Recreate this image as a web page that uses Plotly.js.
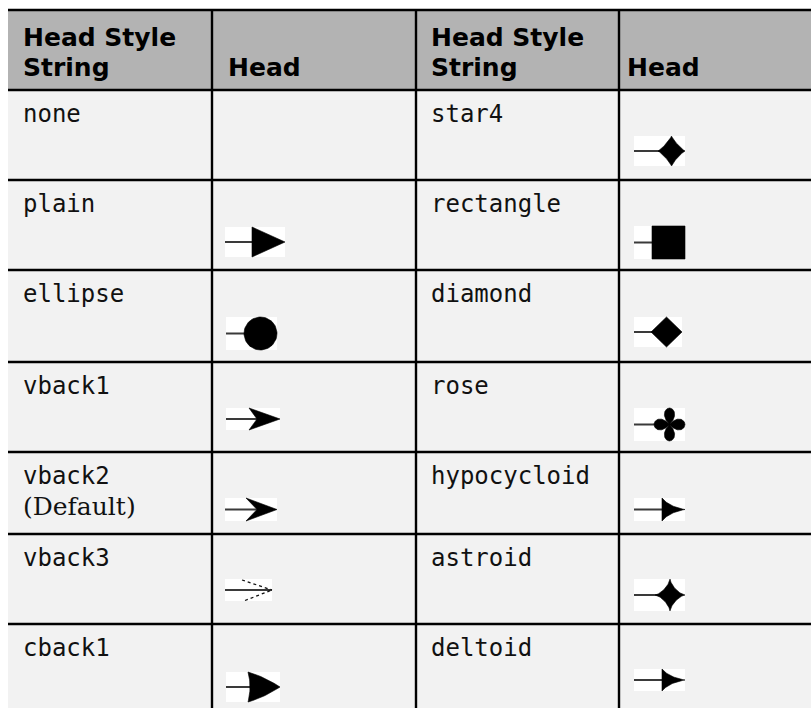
<!DOCTYPE html>
<html><head><meta charset="utf-8">
<script src="https://cdn.plot.ly/plotly-3.0.1.min.js"></script>
<style>html,body{margin:0;padding:0;background:#fff;overflow:hidden}</style>
</head><body><div id="chart" style="width:811px;height:708px"></div>
<script>
// ---- data ----
const headerLabels = ['Head Style<br>String', 'Head', 'Head Style<br>String', 'Head'];
const leftStyles = ['none', 'plain', 'ellipse', 'vback1', 'vback2', 'vback3', 'cback1'];
const rightStyles = ['star4', 'rectangle', 'diamond', 'rose', 'hypocycloid', 'astroid', 'deltoid'];
const defaultStyle = 'vback2';
const defaultNote = '(Default)';

// ---- layout geometry (pixels) ----
const W = 811, H = 708;
const COL_X = [8, 212, 416, 619, 811];
const ROW_Y = [10, 90, 180, 270, 362, 452, 534, 624, 708];
const HEADER_TEXT_X = [23, 228, 431, 627];
const HEADER_BASE = [46, 76];
const BODY_BASE_OFF = 32;
const HEADER_FONT = {family: 'DejaVu Sans', size: 25, color: '#000', weight: 'bold'};
const BODY_FONT = {family: 'DejaVu Sans Mono', size: 24, color: '#111'};
const NOTE_FONT = {family: 'DejaVu Serif', size: 25, color: '#111'};

// glyph boxes relative to cell top-left; hx = head start inside the box
const GLYPH = {
  plain:       {dx: 13, dy: 47, w: 60, h: 30, kind: 'tri',     hx: 27},
  ellipse:     {dx: 14, dy: 47, w: 51, h: 33, kind: 'circle',  hx: 18},
  vback1:      {dx: 14, dy: 46, w: 54, h: 22, kind: 'vback',   hx: 23, notch: 8},
  vback2:      {dx: 13, dy: 46, w: 52, h: 23, kind: 'vback',   hx: 21, notch: 11},
  vback3:      {dx: 13, dy: 45, w: 47, h: 22, kind: 'chevron', hx: 17},
  cback1:      {dx: 14, dy: 48, w: 54, h: 30, kind: 'cback',   hx: 22},
  star4:       {dx: 15, dy: 46, w: 51, h: 30, kind: 'super',   hx: 24, p: 0.85},
  rectangle:   {dx: 15, dy: 46, w: 51, h: 33, kind: 'rect',    hx: 18},
  diamond:     {dx: 15, dy: 47, w: 48, h: 30, kind: 'diamond', hx: 17},
  rose:        {dx: 15, dy: 46, w: 51, h: 33, kind: 'rose',    hx: 20},
  hypocycloid: {dx: 15, dy: 46, w: 51, h: 23, kind: 'cusp',    hx: 28},
  astroid:     {dx: 15, dy: 45, w: 51, h: 32, kind: 'super',   hx: 21, p: 0.7},
  deltoid:     {dx: 15, dy: 45, w: 51, h: 22, kind: 'cusp',    hx: 28}
};

const shapes = [], annotations = [], traces = [];

function rect(x0, y0, x1, y1, fill, layer) {
  shapes.push({type: 'rect', xref: 'x', yref: 'y', x0, y0, x1, y1,
    fillcolor: fill, line: {width: 0}, layer: layer || 'below'});
}
function hline(y, x0, x1) {
  shapes.push({type: 'line', xref: 'x', yref: 'y', x0, x1, y0: y, y1: y,
    line: {color: '#000', width: 2.4}, layer: 'above'});
}
function vline(x, y0, y1) {
  shapes.push({type: 'line', xref: 'x', yref: 'y', x0: x, x1: x, y0, y1,
    line: {color: '#000', width: 2.4}, layer: 'above'});
}
function addText(text, x, baseline, font) {
  annotations.push({xref: 'x', yref: 'y', x, y: baseline - 0.346 * font.size,
    xanchor: 'left', yanchor: 'middle', text, showarrow: false, font,
    borderpad: 0, borderwidth: 0});
}
function fillTrace(xs, ys) {
  traces.push({type: 'scatter', mode: 'lines', x: xs, y: ys, fill: 'toself',
    fillcolor: '#000', line: {width: 0.6, color: '#000'}, hoverinfo: 'skip', showlegend: false});
}
function lineTrace(xs, ys, width, color, dash) {
  traces.push({type: 'scatter', mode: 'lines', x: xs, y: ys,
    line: {width, color, dash: dash || 'solid'}, hoverinfo: 'skip', showlegend: false});
}
function quad(p0, c, p1, n, xs, ys) {
  for (let i = 0; i <= n; i++) {
    const t = i / n, a = (1 - t) * (1 - t), b = 2 * (1 - t) * t, d = t * t;
    xs.push(a * p0[0] + b * c[0] + d * p1[0]);
    ys.push(a * p0[1] + b * c[1] + d * p1[1]);
  }
}

function drawGlyph(style, cellX, cellY) {
  const g = GLYPH[style];
  if (!g) return;
  const bx0 = cellX + g.dx, by0 = cellY + g.dy, bx1 = bx0 + g.w, by1 = by0 + g.h;
  rect(bx0, by0, bx1, by1, '#ffffff', 'below');
  const X0 = bx0 + g.hx, X1 = bx1, Y0 = by0, Y1 = by1, YC = (Y0 + Y1) / 2, XC = (X0 + X1) / 2;
  const rx = (X1 - X0) / 2, ry = (Y1 - Y0) / 2;
  // shaft
  const shaftEnd = g.kind === 'chevron' ? X1 : XC;
  lineTrace([bx0, shaftEnd], [YC, YC], 2, '#3a3a3a');
  const xs = [], ys = [];
  switch (g.kind) {
    case 'tri':
      fillTrace([X0, X1, X0, X0], [Y0, YC, Y1, Y0]); break;
    case 'circle':
      for (let i = 0; i <= 72; i++) { const t = i / 72 * 2 * Math.PI; xs.push(XC + rx * Math.cos(t)); ys.push(YC + ry * Math.sin(t)); }
      fillTrace(xs, ys); break;
    case 'vback':
      fillTrace([X0, X1, X0, X0 + g.notch, X0], [Y0, YC, Y1, YC, Y0]); break;
    case 'chevron':
      lineTrace([X0, X1], [Y0 + 1, YC], 1.3, '#111', 'dot');
      lineTrace([X0 + 3, X1], [Y1 - 0.5, YC], 1.3, '#111', 'dot');
      break;
    case 'cback': {
      quad([X0, Y0], [X0 + 0.5 * (X1 - X0), Y0 + 0.3 * (YC - Y0)], [X1, YC], 20, xs, ys);
      quad([X1, YC], [X0 + 0.5 * (X1 - X0), Y1 - 0.3 * (Y1 - YC)], [X0, Y1], 20, xs, ys);
      quad([X0, Y1], [X0 + 4, YC], [X0, Y0], 20, xs, ys);
      fillTrace(xs, ys); break;
    }
    case 'super': {
      const e = 2 / g.p;
      for (let i = 0; i <= 160; i++) {
        const t = i / 160 * 2 * Math.PI, c = Math.cos(t), s = Math.sin(t);
        xs.push(XC + rx * Math.sign(c) * Math.pow(Math.abs(c), e));
        ys.push(YC + ry * Math.sign(s) * Math.pow(Math.abs(s), e));
      }
      fillTrace(xs, ys); break;
    }
    case 'rect':
      fillTrace([X0, X1, X1, X0, X0], [Y0, Y0, Y1, Y1, Y0]); break;
    case 'diamond':
      fillTrace([X0, XC, X1, XC, X0], [YC, Y0, YC, Y1, YC]); break;
    case 'rose':
      for (let i = 0; i <= 240; i++) {
        const t = i / 240 * 2 * Math.PI, r = Math.pow(Math.abs(Math.cos(2 * t)), 0.6);
        xs.push(XC + rx * r * Math.cos(t)); ys.push(YC + ry * r * Math.sin(t));
      }
      fillTrace(xs, ys); break;
    case 'cusp': {
      const Wd = X1 - X0;
      quad([X0, Y0], [X0 + 0.3 * Wd, YC - 0.12 * g.h], [X1, YC], 24, xs, ys);
      quad([X1, YC], [X0 + 0.3 * Wd, YC + 0.12 * g.h], [X0, Y1], 24, xs, ys);
      xs.push(X0); ys.push(Y0);
      fillTrace(xs, ys); break;
    }
  }
}

// backgrounds
const lastY = ROW_Y[ROW_Y.length - 1];
rect(COL_X[0], ROW_Y[0], COL_X[4], ROW_Y[1], '#b3b3b3');
rect(COL_X[0], ROW_Y[1], COL_X[4], lastY, '#f2f2f2');

// header text
headerLabels.forEach((lab, c) => {
  const lines = lab.split('<br>');
  const bases = lines.length === 2 ? HEADER_BASE : [HEADER_BASE[1]];
  lines.forEach((ln, k) => addText(ln, HEADER_TEXT_X[c], bases[k], HEADER_FONT));
});

// body
[leftStyles, rightStyles].forEach((list, side) => {
  const nameCol = side * 2, headCol = side * 2 + 1;
  list.forEach((name, r) => {
    const top = ROW_Y[r + 1];
    addText(name, HEADER_TEXT_X[nameCol], top + BODY_BASE_OFF, BODY_FONT);
    if (name === defaultStyle) addText(defaultNote, HEADER_TEXT_X[nameCol], top + 63, NOTE_FONT);
    drawGlyph(name, COL_X[headCol], top);
  });
});

// grid lines
hline(ROW_Y[0], COL_X[0], COL_X[4]);
for (let r = 1; r < ROW_Y.length - 1; r++) hline(ROW_Y[r], COL_X[0], COL_X[4]);
for (let c = 1; c < COL_X.length - 1; c++) vline(COL_X[c], ROW_Y[0], lastY);

const layout = {
  width: W, height: H, margin: {l: 0, r: 0, t: 0, b: 0, pad: 0},
  paper_bgcolor: '#ffffff', plot_bgcolor: '#ffffff', showlegend: false,
  xaxis: {range: [0, W], visible: false, fixedrange: true},
  yaxis: {range: [H, 0], visible: false, fixedrange: true},
  shapes, annotations
};
Plotly.newPlot('chart', traces, layout, {staticPlot: true, displayModeBar: false});
</script></body></html>
